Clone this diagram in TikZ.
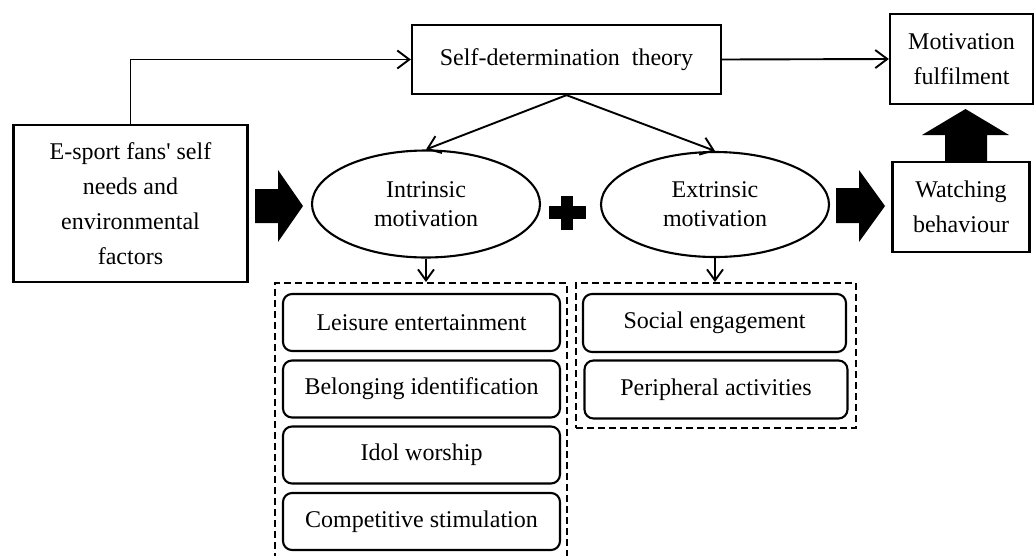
\documentclass[tikz,border=0pt]{standalone}
\usepackage{fontspec}
\setmainfont{Liberation Serif}[Ligatures=TeXOff]
\usetikzlibrary{arrows.meta,shapes.geometric}
\begin{document}
\begin{tikzpicture}[x=1pt,y=-1pt,
  box/.style={draw, line width=2.3pt, inner sep=0pt, align=center, font=\fontsize{24}{35}\selectfont},
  ell/.style={draw, ellipse, line width=2.1pt, inner sep=0pt, align=center, font=\fontsize{24}{29}\selectfont},
  rbox/.style={draw, rounded corners=9pt, line width=2.1pt, inner sep=0pt, font=\fontsize{24}{29}\selectfont},
  grp/.style={draw, dash pattern=on 7pt off 4pt, line width=2.1pt, inner sep=0pt},
  conn/.style={line width=1.9pt, -{Straight Barb[length=12pt,width=18pt]}},
  sconn/.style={line width=1.9pt, -{Straight Barb[length=11pt,width=16pt]}},
  blk/.style={fill=black, draw=none}]
\useasboundingbox (0,0) rectangle (1035,555);

% main nodes
\node[box, minimum width=309, minimum height=69] (sdt) at (566.5,59.5) {Self-determination\ \ theory};
\node[box, minimum width=234, minimum height=157] (fans) at (130.5,203.5) {E-sport fans' self\\needs and\\environmental\\factors};
\node[box, minimum width=143, minimum height=90] (mf) at (961.5,59) {Motivation\\fulfilment};
\node[box, minimum width=137, minimum height=90] (wb) at (961,207) {Watching\\behaviour};
\node[ell, minimum width=228, minimum height=107] (intr) at (426,204) {Intrinsic\\motivation};
\node[ell, minimum width=228, minimum height=105] (extr) at (715,204.5) {Extrinsic\\motivation};

% groups
\node[grp, minimum width=292, minimum height=290, anchor=north] (g1) at (421,282) {};
\node[grp, minimum width=280, minimum height=145, anchor=north] (g2) at (716,282) {};

% items
\node[rbox, minimum width=277, minimum height=57] (le) at (421.5,322.5) {Leisure entertainment};
\node[rbox, minimum width=277, minimum height=57] (bi) at (421.5,389) {Belonging identification};
\node[rbox, minimum width=277, minimum height=57] (iw) at (421.5,455) {Idol worship};
\node[rbox, minimum width=277, minimum height=57] (cs) at (421.5,521.5) {Competitive stimulation};
\node[rbox, minimum width=263, minimum height=58] (se) at (714.5,323) {Social engagement};
\node[rbox, minimum width=263, minimum height=58] (pa) at (716,389.5) {Peripheral activities};

% connectors
\draw[conn] (fans.north) |- (sdt.west);
\draw[conn] (sdt.east) -- (mf.west);
\draw[conn] (sdt.south) -- (intr.north);
\draw[conn] (sdt.south) -- (extr.north);
\draw[sconn] (intr.south) -- (intr.south |- g1.north);
\draw[sconn] (extr.south) -- (extr.south |- g2.north);

% block arrows
\fill[blk] (255,189) -- (278,189) -- (278,170) -- (303,206) -- (278,242) -- (278,223) -- (255,223) -- cycle;
\fill[blk] (836,188) -- (859,188) -- (859,170) -- (885,206) -- (859,242) -- (859,223) -- (836,223) -- cycle;
\fill[blk] (945,162) -- (945,135) -- (922,135) -- (965.5,109) -- (1009,135) -- (987,135) -- (987,162) -- cycle;
% plus sign
\fill[blk] (561,196) rectangle (573,230);
\fill[blk] (549,206) rectangle (586,219);
\end{tikzpicture}
\end{document}
